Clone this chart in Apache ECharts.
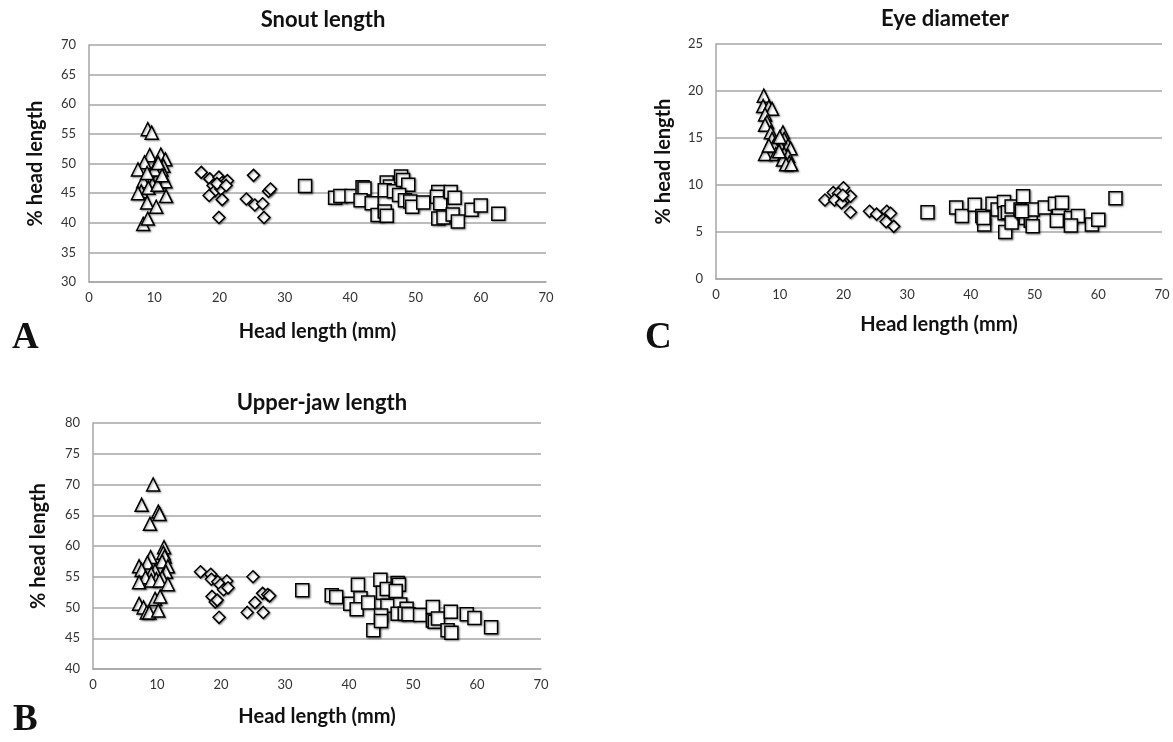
<!DOCTYPE html>
<html>
<head>
<meta charset="utf-8">
<script src="https://cdn.jsdelivr.net/npm/echarts@6/dist/echarts.min.js"></script>
<style>
  html, body { margin: 0; padding: 0; background: #fff; }
  #main { width: 1173px; height: 742px; }
</style>
</head>
<body>
<div id="main"></div>
<script>
// head length (mm) vs % head length, three size groups per panel
var snoutSmall = [
  [9.0, 55.8], [9.6, 55.2], [9.3, 51.4], [8.5, 50.2], [7.5, 49.0], [8.3, 47.0],
  [8.0, 45.3], [7.5, 45.0], [8.9, 43.4], [10.3, 42.7], [11.8, 44.5], [8.3, 39.8],
  [9.0, 40.7], [11.0, 51.5], [11.7, 50.7], [11.4, 49.6], [10.8, 48.4], [10.3, 47.3],
  [9.7, 46.5], [9.1, 45.9], [10.8, 47.0], [11.7, 47.0], [11.1, 49.0], [10.0, 49.0],
  [10.6, 50.1], [8.9, 48.4], [10.5, 46.4], [11.2, 48.0]
];
var snoutMid = [
  [17.2, 48.5], [18.5, 47.4], [19.9, 47.7], [19.0, 46.3], [20.4, 46.8], [21.2, 47.1],
  [19.3, 45.4], [20.2, 45.7], [18.4, 44.6], [20.4, 43.9], [19.9, 40.9], [25.2, 48.0],
  [24.1, 44.0], [25.4, 43.0], [26.6, 43.2], [26.8, 40.9], [27.5, 45.3], [27.8, 45.7],
  [19.6, 46.6], [21.0, 46.3]
];
var snoutLarge = [
  [33.1, 46.2], [37.7, 44.2], [38.5, 44.5], [40.2, 44.5], [41.9, 46.0], [42.2, 45.8],
  [41.6, 43.8], [43.3, 43.3], [44.2, 41.3], [45.3, 41.9], [45.6, 46.8], [46.1, 46.1],
  [45.3, 45.5], [46.7, 45.3], [47.8, 47.8], [48.1, 47.2], [48.9, 46.4], [47.5, 44.7],
  [48.4, 43.8], [49.2, 43.6], [49.5, 42.7], [51.2, 43.4], [53.5, 45.2], [53.3, 44.4],
  [53.8, 43.3], [55.4, 45.2], [56.0, 44.2], [53.5, 40.7], [54.3, 40.9], [55.7, 41.4],
  [56.5, 40.2], [58.6, 42.2], [60.0, 42.9], [62.7, 41.5], [45.6, 41.2]
];

var eyeSmall = [
  [7.5, 19.5], [7.4, 18.4], [8.3, 18.3], [8.8, 18.1], [7.7, 17.5], [8.0, 16.7],
  [7.7, 16.4], [8.6, 15.6], [10.5, 15.6], [8.8, 14.9], [9.6, 14.5], [10.7, 14.9],
  [9.1, 14.2], [10.2, 14.0], [11.3, 14.2], [11.7, 13.9], [7.7, 13.3], [9.4, 13.3],
  [10.7, 13.3], [11.3, 13.1], [10.5, 12.7], [11.5, 12.4], [11.0, 12.2], [11.8, 12.2],
  [9.9, 13.6], [8.3, 14.2], [10.0, 15.1]
];
var eyeMid = [
  [17.1, 8.4], [18.4, 9.2], [20.0, 9.7], [19.2, 9.1], [19.5, 8.6], [20.2, 8.4],
  [18.6, 8.4], [21.1, 8.8], [19.7, 8.1], [21.1, 7.1], [24.1, 7.2], [25.2, 6.9],
  [26.8, 7.2], [27.4, 7.0], [26.7, 6.1], [27.9, 5.6], [19.9, 8.9]
];
var eyeLarge = [
  [33.2, 7.1], [37.7, 7.6], [38.6, 6.7], [40.6, 7.9], [41.8, 6.7], [42.1, 5.8],
  [43.4, 8.0], [44.2, 7.4], [45.2, 8.2], [45.3, 7.0], [45.8, 7.1], [45.4, 5.0],
  [46.4, 7.7], [46.4, 6.0], [47.8, 7.4], [48.2, 8.8], [48.3, 7.0], [48.6, 6.5],
  [49.4, 6.2], [49.7, 5.6], [49.7, 7.4], [51.6, 7.6], [53.2, 8.0], [54.3, 8.1],
  [53.8, 6.7], [53.5, 6.2], [55.7, 6.5], [56.8, 6.7], [55.7, 5.7], [59.0, 5.8],
  [60.0, 6.3], [62.7, 8.6], [42.0, 6.5], [48.0, 7.2]
];

var jawSmall = [
  [9.4, 70.0], [7.6, 66.7], [10.2, 65.6], [10.4, 65.2], [8.9, 63.6], [11.1, 59.8],
  [11.0, 58.9], [11.2, 58.3], [9.0, 58.2], [8.5, 57.3], [10.8, 57.5], [7.2, 56.7],
  [11.7, 56.7], [7.6, 56.1], [9.7, 56.0], [11.4, 55.8], [9.1, 55.5], [8.2, 54.9],
  [9.9, 54.6], [10.8, 54.9], [7.2, 54.1], [9.1, 54.4], [10.4, 54.4], [11.7, 53.8],
  [7.2, 50.6], [7.9, 50.0], [9.7, 51.4], [10.5, 51.8], [8.4, 49.2], [8.8, 49.2],
  [10.2, 49.5]
];
var jawMid = [
  [16.8, 55.8], [18.4, 55.4], [18.5, 54.6], [19.5, 54.2], [20.9, 54.3], [19.9, 53.7],
  [20.4, 52.9], [21.1, 53.2], [18.6, 51.8], [19.1, 50.9], [19.4, 51.2], [19.7, 48.4],
  [25.0, 55.0], [24.1, 49.2], [25.3, 50.8], [26.5, 52.3], [27.3, 52.1], [27.6, 51.9],
  [26.6, 49.2]
];
var jawLarge = [
  [32.7, 52.8], [37.3, 52.0], [38.0, 51.7], [40.2, 50.6], [41.4, 53.7], [41.8, 51.5],
  [41.2, 49.7], [43.0, 50.8], [43.8, 46.3], [44.9, 54.5], [45.3, 52.4], [45.9, 53.0],
  [46.0, 50.3], [45.0, 48.7], [45.0, 47.8], [47.6, 54.0], [47.8, 53.7], [47.3, 52.7],
  [48.0, 50.5], [47.6, 49.0], [49.0, 49.8], [48.7, 49.0], [49.3, 48.9], [51.1, 48.8],
  [53.1, 50.1], [53.1, 47.9], [53.4, 47.7], [53.9, 48.2], [55.9, 49.3], [55.4, 46.3],
  [56.0, 45.9], [58.4, 48.9], [59.6, 48.3], [62.2, 46.8]
];

var headTicks = { min: 0, max: 70, interval: 10 };
var snoutTicks = { min: 30, max: 70, interval: 5 };
var eyeTicks = { min: 0, max: 25, interval: 5 };
var jawTicks = { min: 40, max: 80, interval: 5 };

var chartDom = document.getElementById('main');
var myChart = echarts.init(chartDom);
var option;

var labelFont = 'Lato, "Open Sans", sans-serif';
var gridGray = '#a6a6a6';

function xAx(idx, gap) {
  return {
    gridIndex: idx,
    type: 'value',
    min: headTicks.min, max: headTicks.max, interval: headTicks.interval,
    name: 'Head length (mm)',
    nameLocation: 'middle',
    nameGap: gap,
    nameTextStyle: { fontFamily: labelFont, fontWeight: 'bold', fontSize: 20, color: '#111' },
    axisLine: { show: true, lineStyle: { color: gridGray, width: 1.5 } },
    axisTick: { show: false },
    splitLine: { show: false },
    axisLabel: { fontFamily: labelFont, fontSize: 13, color: '#333', margin: 9 }
  };
}

function yAx(idx, t, gap) {
  return {
    gridIndex: idx,
    type: 'value',
    min: t.min, max: t.max, interval: t.interval,
    name: '% head length',
    nameLocation: 'middle',
    nameGap: gap,
    nameTextStyle: { fontFamily: labelFont, fontWeight: 'bold', fontSize: 20, color: '#111' },
    axisLine: { show: true, lineStyle: { color: gridGray, width: 1.5 } },
    axisTick: { show: false },
    splitLine: { show: true, lineStyle: { color: gridGray, width: 1.5 } },
    axisLabel: { fontFamily: labelFont, fontSize: 13, color: '#333', margin: 13 }
  };
}

function pts(idx, data, symbol, size) {
  return {
    type: 'scatter',
    xAxisIndex: idx,
    yAxisIndex: idx,
    data: data,
    symbol: symbol,
    symbolSize: size,
    itemStyle: {
      color: '#fff',
      opacity: 1,
      borderColor: '#000',
      borderWidth: 1.5,
      shadowColor: 'rgba(0,0,0,0.4)',
      shadowBlur: 2,
      shadowOffsetX: 1,
      shadowOffsetY: 1
    },
    emphasis: { disabled: true }
  };
}

function titleAt(text, x, y) {
  return {
    text: text,
    left: x,
    top: y,
    textAlign: 'center',
    textStyle: { fontFamily: labelFont, fontWeight: 'bold', fontSize: 22, color: '#111' }
  };
}

function letter(text, x, y) {
  return {
    type: 'text',
    left: x,
    top: y,
    style: { text: text, font: 'bold 37px "Liberation Serif", "DejaVu Serif", serif', fill: '#111' }
  };
}

option = {
  backgroundColor: '#fff',
  animation: false,
  title: [
    titleAt('Snout length', 318, 4),
    titleAt('Eye diameter', 940, 3),
    titleAt('Upper-jaw length', 317, 387)
  ],
  grid: [
    { left: 89, top: 45, width: 457, height: 237 },
    { left: 716, top: 44, width: 446, height: 235 },
    { left: 93, top: 423, width: 448, height: 246 }
  ],
  xAxis: [xAx(0, 40), xAx(1, 36), xAx(2, 38)],
  yAxis: [yAx(0, snoutTicks, 43), yAx(1, eyeTicks, 42), yAx(2, jawTicks, 44)],
  series: [
    pts(0, snoutSmall, 'triangle', 13),
    pts(0, snoutMid, 'diamond', 12),
    pts(0, snoutLarge, 'rect', 13),
    pts(1, eyeSmall, 'triangle', 13),
    pts(1, eyeMid, 'diamond', 12),
    pts(1, eyeLarge, 'rect', 13),
    pts(2, jawSmall, 'triangle', 13),
    pts(2, jawMid, 'diamond', 12),
    pts(2, jawLarge, 'rect', 13)
  ],
  graphic: [
    letter('A', 12, 320),
    letter('C', 645, 320),
    letter('B', 13, 702)
  ]
};

option && myChart.setOption(option);
</script>
</body>
</html>
